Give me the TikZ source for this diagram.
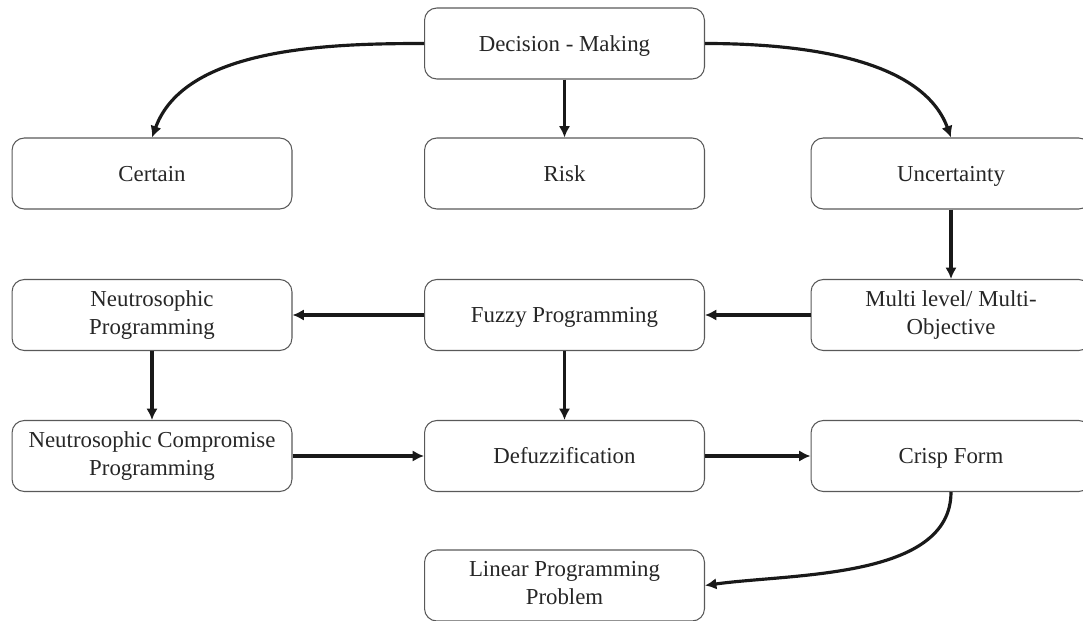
\documentclass[tikz,border=0pt]{standalone}
\usepackage{fontspec}
\setmainfont{Liberation Serif}
\usetikzlibrary{arrows.meta}
\newcommand{\boxstrut}{\rule[-2.8pt]{0pt}{14.2pt}}
\begin{document}
\begin{tikzpicture}[x=0.02cm, y=0.02cm,
    box/.style={draw=black!65, line width=0.6pt, rounded corners=7pt, minimum width=5.6cm, minimum height=1.42cm, align=center, text=black!85, inner sep=2pt, font=\fontsize{13}{15.5}\selectfont, execute at begin node=\boxstrut, execute at end node=\boxstrut},
    arr/.style={-{Latex[length=6.5pt, width=6.5pt]}, line width=1.8pt, black!90}]
    \clip (0, 0) rectangle (1083, -621);
    \node[box] (decision) at (564.5, -43.5) {Decision - Making};
    \node[box] (certain) at (152, -173.5) {Certain};
    \node[box] (risk) at (564.5, -173.5) {Risk};
    \node[box] (uncertain) at (951, -173.5) {Uncertainty};
    \node[box] (neutro) at (152, -315) {Neutrosophic\\Programming};
    \node[box] (fuzzy) at (564.5, -315) {Fuzzy Programming};
    \node[box] (multi) at (951, -315) {Multi level/ Multi-\\Objective};
    \node[box] (compromise) at (152, -456) {Neutrosophic Compromise\\Programming};
    \node[box] (defuzz) at (564.5, -456) {Defuzzification};
    \node[box] (crisp) at (951, -456) {Crisp Form};
    \node[box] (linear) at (564.5, -585.5) {Linear Programming\\Problem};
    \draw[arr] (decision) -- (risk);
    \draw[arr] (decision.west) to[out=180, in=70, looseness=0.85] (certain.north);
    \draw[arr] (decision.east) to[out=0, in=110, looseness=0.85] (uncertain.north);
    \draw[arr] (uncertain) -- (multi);
    \draw[arr] (multi) -- (fuzzy);
    \draw[arr] (fuzzy) -- (neutro);
    \draw[arr] (neutro) -- (compromise);
    \draw[arr] (fuzzy) -- (defuzz);
    \draw[arr] (compromise) -- (defuzz);
    \draw[arr] (defuzz) -- (crisp);
    \draw[arr] (crisp.south) to[out=-90, in=8, looseness=0.85] (linear.east);
\end{tikzpicture}
\end{document}
